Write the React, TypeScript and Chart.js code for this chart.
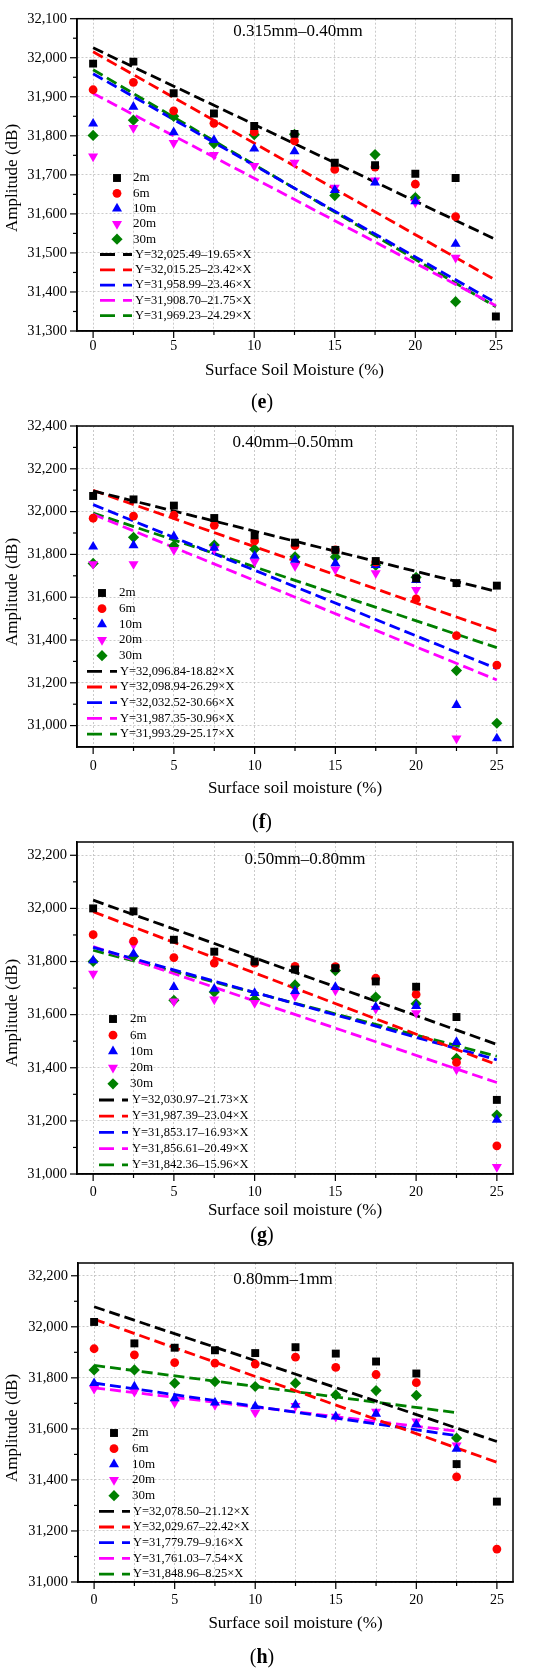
import { useEffect, useRef } from "react";
import { Chart, registerables } from "chart.js";
import { drawPoint } from "chart.js/helpers";

Chart.register(...registerables);

const FONT = "'Liberation Serif', 'Times New Roman', serif";
Chart.defaults.font.family = FONT;
Chart.defaults.color = "#000";

// soil moisture levels (%)
const moisture = [0, 2.5, 5, 7.5, 10, 12.5, 15, 17.5, 20, 22.5, 25];
const xTicks = [0, 2.5, 5, 7.5, 10, 12.5, 15, 17.5, 20, 22.5, 25];

const depths = ["2m", "6m", "10m", "20m", "30m"];
const depthColors = ["#000000", "#ff0000", "#0000ff", "#ff00ff", "#008000"];
const depthStyles = ["rect", "circle", "triangle", "triangle", "rectRot"];
const depthRotation = [0, 0, 0, 180, 0];
const depthRadius = [5.6, 4.4, 5.8, 5.8, 5.6];

// (e) 0.315mm-0.40mm
const e2m = [31985, 31990, 31909, 31857, 31825, 31805, 31731, 31725, 31703, 31692, 31337];
const e6m = [31918, 31937, 31864, 31832, 31810, 31787, 31714, 31720, 31676, 31593, null];
const e10m = [31831, 31874, 31809, 31789, 31767, 31760, 31661, 31680, 31632, 31523, null];
const e20m = [31747, 31820, 31782, 31751, 31723, 31731, 31667, 31686, 31629, 31488, null];
const e30m = [31801, 31840, 31850, 31780, 31803, 31804, 31647, 31752, 31642, 31375, null];
const eIntercepts = [32025.49, 32015.25, 31958.99, 31908.7, 31969.23];
const eSlopes = [-19.65, -23.42, -23.46, -21.75, -24.29];
const eFitEnd = [25, 25, 25, 25, 25];
const eEquations = [
  "Y=32,025.49–19.65×X",
  "Y=32,015.25–23.42×X",
  "Y=31,958.99–23.46×X",
  "Y=31,908.70–21.75×X",
  "Y=31,969.23–24.29×X",
];
const eYTicks = [31300, 31400, 31500, 31600, 31700, 31800, 31900, 32000, 32100];

// (f) 0.40mm-0.50mm
const f2m = [32073, 32057, 32028, 31970, 31889, 31855, 31821, 31769, 31688, 31666, 31654];
const f6m = [31969, 31979, 31983, 31936, 31863, 31841, 31821, 31764, 31592, 31420, 31283];
const f10m = [31836, 31842, 31884, 31831, 31793, 31774, 31758, 31750, 31680, 31096, 30940];
const f20m = [31755, 31755, 31821, 31824, 31766, 31746, 31730, 31712, 31634, 30940, null];
const f30m = [31758, 31880, 31841, 31844, 31824, 31789, 31788, 31749, 31693, 31257, 31011];
const fIntercepts = [32096.84, 32098.94, 32032.52, 31987.35, 31993.29];
const fSlopes = [-18.82, -26.29, -30.66, -30.96, -25.17];
const fFitEnd = [25, 25, 25, 25, 25];
const fEquations = [
  "Y=32,096.84-18.82×X",
  "Y=32,098.94-26.29×X",
  "Y=32,032.52-30.66×X",
  "Y=31,987.35-30.96×X",
  "Y=31,993.29-25.17×X",
];
const fYTicks = [31000, 31200, 31400, 31600, 31800, 32000, 32200, 32400];

// (g) 0.50mm-0.80mm
const g2m = [32000, 31989, 31882, 31837, 31800, 31770, 31775, 31725, 31705, 31591, 31279];
const g6m = [31901, 31877, 31815, 31794, 31794, 31782, 31781, 31737, 31676, 31420, 31106];
const g10m = [31804, 31829, 31704, 31697, 31681, 31689, 31704, 31629, 31632, 31497, 31204];
const g20m = [31754, 31864, 31650, 31657, 31644, 31670, 31691, 31622, 31606, 31394, 31027];
const g30m = [31800, 31820, 31654, 31685, 31657, 31712, 31766, 31666, 31641, 31435, 31222];
const gIntercepts = [32030.97, 31987.39, 31853.17, 31856.61, 31842.36];
const gSlopes = [-21.73, -23.04, -16.93, -20.49, -15.96];
const gFitEnd = [25, 25, 25, 25, 25];
const gEquations = [
  "Y=32,030.97–21.73×X",
  "Y=31,987.39–23.04×X",
  "Y=31,853.17–16.93×X",
  "Y=31,856.61–20.49×X",
  "Y=31,842.36–15.96×X",
];
const gYTicks = [31000, 31200, 31400, 31600, 31800, 32000, 32200];

// (h) 0.80mm-1mm
const h2m = [32019, 31935, 31918, 31908, 31897, 31920, 31895, 31864, 31817, 31462, 31315];
const h6m = [31914, 31890, 31860, 31858, 31854, 31881, 31841, 31813, 31781, 31412, 31129];
const h10m = [31779, 31766, 31720, 31703, 31688, 31694, 31648, 31659, 31618, 31522, null];
const h20m = [31757, 31746, 31703, 31694, 31664, 31690, 31648, 31668, 31629, 31535, null];
const h30m = [31831, 31831, 31779, 31785, 31766, 31779, 31733, 31750, 31731, 31564, null];
const hIntercepts = [32078.5, 32029.67, 31779.79, 31761.03, 31848.96];
const hSlopes = [-21.12, -22.42, -9.16, -7.54, -8.25];
const hFitEnd = [25, 25, 22.5, 22.5, 22.5];
const hEquations = [
  "Y=32,078.50–21.12×X",
  "Y=32,029.67–22.42×X",
  "Y=31,779.79–9.16×X",
  "Y=31,761.03–7.54×X",
  "Y=31,848.96–8.25×X",
];
const hYTicks = [31000, 31200, 31400, 31600, 31800, 32000, 32200];

const panels = [
  {
    tag: "e", top: 0, height: 420,
    area: { left: 77, right: 512, top: 15, bottom: 331 },
    yMin: 31300, yMax: 32100, yTicks: eYTicks,
    series: [e2m, e6m, e10m, e20m, e30m],
    intercepts: eIntercepts, slopes: eSlopes, fitEnd: eFitEnd, equations: eEquations,
    range: "0.315mm–0.40mm", rangeX: 298, rangeY: 32,
    xTitle: "Surface Soil Moisture (%)", xTitleY: 371, yTitleY: 178, tagY: 403, xTickPad: 7,
    legend: { markerX: 117, textX: 133, lineX1: 100, lineX2: 132, lineTextX: 135, row0: 178, step: 15.3 },
  },
  {
    tag: "f", top: 400, height: 440,
    area: { left: 77, right: 513, top: 426, bottom: 747 },
    yMin: 30900, yMax: 32400, yTicks: fYTicks,
    series: [f2m, f6m, f10m, f20m, f30m],
    intercepts: fIntercepts, slopes: fSlopes, fitEnd: fFitEnd, equations: fEquations,
    range: "0.40mm–0.50mm", rangeX: 293, rangeY: 443,
    xTitle: "Surface soil moisture (%)", xTitleY: 789, yTitleY: 592, tagY: 823, xTickPad: 11,
    legend: { markerX: 102, textX: 119, lineX1: 87, lineX2: 117, lineTextX: 120, row0: 593, step: 15.67 },
  },
  {
    tag: "g", top: 820, height: 430,
    area: { left: 77, right: 513, top: 842, bottom: 1174 },
    yMin: 31000, yMax: 32250, yTicks: gYTicks,
    series: [g2m, g6m, g10m, g20m, g30m],
    intercepts: gIntercepts, slopes: gSlopes, fitEnd: gFitEnd, equations: gEquations,
    range: "0.50mm–0.80mm", rangeX: 305, rangeY: 860,
    xTitle: "Surface soil moisture (%)", xTitleY: 1211, yTitleY: 1013, tagY: 1236, xTickPad: 10,
    legend: { markerX: 113, textX: 130, lineX1: 99, lineX2: 128, lineTextX: 132, row0: 1019, step: 16.2 },
  },
  {
    tag: "h", top: 1235, height: 441,
    area: { left: 78, right: 513, top: 1263, bottom: 1582 },
    yMin: 31000, yMax: 32250, yTicks: hYTicks,
    series: [h2m, h6m, h10m, h20m, h30m],
    intercepts: hIntercepts, slopes: hSlopes, fitEnd: hFitEnd, equations: hEquations,
    range: "0.80mm–1mm", rangeX: 283, rangeY: 1280,
    xTitle: "Surface soil moisture (%)", xTitleY: 1624, yTitleY: 1428, tagY: 1658, xTickPad: 10,
    legend: { markerX: 114, textX: 132, lineX1: 99, lineX2: 130, lineTextX: 133, row0: 1433, step: 15.67 },
  },
];

function makeOverlay(p) {
  return {
    id: "overlay" + p.tag,
    afterDraw(chart) {
      const { ctx, chartArea: a } = chart;
      const xs = chart.scales.x;
      const ys = chart.scales.y;
      const off = p.top;
      const seg = (x1, y1, x2, y2) => {
        ctx.beginPath();
        ctx.moveTo(x1, y1);
        ctx.lineTo(x2, y2);
        ctx.stroke();
      };
      ctx.save();

      // frame
      ctx.strokeStyle = "#000";
      ctx.lineWidth = 1.5;
      ctx.strokeRect(a.left, a.top, a.right - a.left, a.bottom - a.top);

      // tick marks
      ctx.lineWidth = 1.2;
      xTicks.forEach((v) => {
        const px = xs.getPixelForValue(v);
        seg(px, a.bottom, px, a.bottom + (v % 5 === 0 ? 7 : 4));
      });
      p.yTicks.forEach((v, i) => {
        const py = ys.getPixelForValue(v);
        seg(a.left, py, a.left - 7, py);
        if (i < p.yTicks.length - 1) {
          const pm = ys.getPixelForValue((v + p.yTicks[i + 1]) / 2);
          seg(a.left, pm, a.left - 4, pm);
        }
      });

      ctx.fillStyle = "#000";
      ctx.textBaseline = "middle";

      // range title
      ctx.textAlign = "center";
      ctx.font = `17px ${FONT}`;
      ctx.fillText(p.range, p.rangeX, p.rangeY - off);

      // axis titles
      ctx.fillText(p.xTitle, (a.left + a.right) / 2, p.xTitleY - off);
      ctx.save();
      ctx.translate(13, p.yTitleY - off);
      ctx.rotate(-Math.PI / 2);
      ctx.fillText("Amplitude (dB)", 0, 0);
      ctx.restore();

      // panel tag, e.g. (e)
      ctx.font = `20px ${FONT}`;
      const wOpen = ctx.measureText("(").width;
      ctx.font = `bold 20px ${FONT}`;
      const wTag = ctx.measureText(p.tag).width;
      const total = wOpen * 2 + wTag;
      let tx = 262 - total / 2;
      ctx.textAlign = "left";
      ctx.font = `20px ${FONT}`;
      ctx.fillText("(", tx, p.tagY - off);
      ctx.font = `bold 20px ${FONT}`;
      ctx.fillText(p.tag, tx + wOpen, p.tagY - off);
      ctx.font = `20px ${FONT}`;
      ctx.fillText(")", tx + wOpen + wTag, p.tagY - off);

      // legend
      const L = p.legend;
      depths.forEach((d, i) => {
        const y = L.row0 + i * L.step - off;
        ctx.fillStyle = depthColors[i];
        drawPoint(ctx, { pointStyle: depthStyles[i], radius: depthRadius[i], rotation: depthRotation[i], borderWidth: 0 }, L.markerX, y);
        ctx.fillStyle = "#000";
        ctx.font = `13px ${FONT}`;
        ctx.fillText(d, L.textX, y);
      });
      p.equations.forEach((eq, i) => {
        const y = L.row0 + (i + 5) * L.step - off;
        ctx.strokeStyle = depthColors[i];
        ctx.lineWidth = 2.8;
        ctx.setLineDash([15, 8]);
        seg(L.lineX1, y, L.lineX2, y);
        ctx.setLineDash([]);
        ctx.fillStyle = "#000";
        ctx.font = `12.5px ${FONT}`;
        ctx.fillText(eq, L.lineTextX, y);
      });
      ctx.restore();
    },
  };
}

function Panel({ p }) {
  const canvasRef = useRef(null);

  useEffect(() => {
    const scatterSets = p.series.map((vals, i) => ({
      type: "scatter",
      label: depths[i],
      data: moisture.map((x, j) => ({ x, y: vals[j] })).filter((pt) => pt.y !== null),
      backgroundColor: depthColors[i],
      borderColor: depthColors[i],
      pointStyle: depthStyles[i],
      pointRotation: depthRotation[i],
      pointRadius: depthRadius[i],
      pointBorderWidth: 0,
      showLine: false,
    }));
    const fitSets = p.intercepts.map((b, i) => ({
      type: "line",
      label: p.equations[i],
      data: [
        { x: 0, y: b },
        { x: p.fitEnd[i], y: b + p.slopes[i] * p.fitEnd[i] },
      ],
      borderColor: depthColors[i],
      borderWidth: 2.8,
      borderDash: [11, 5],
      pointRadius: 0,
      fill: false,
    }));

    const xAxisH = 30;
    const chart = new Chart(canvasRef.current, {
      type: "scatter",
      data: { datasets: [...scatterSets, ...fitSets] },
      options: {
        animation: false,
        responsive: false,
        layout: {
          padding: {
            left: 0,
            right: 550 - p.area.right,
            top: p.area.top - p.top,
            bottom: p.height - (p.area.bottom - p.top) - xAxisH,
          },
        },
        plugins: { legend: { display: false }, tooltip: { enabled: false } },
        scales: {
          x: {
            type: "linear",
            min: -1,
            max: 26,
            afterBuildTicks: (s) => {
              s.ticks = xTicks.map((v) => ({ value: v }));
            },
            afterFit: (s) => {
              s.height = xAxisH;
            },
            ticks: {
              callback: (v) => (Number(v) % 5 === 0 ? String(v) : ""),
              font: { size: 14 },
              color: "#000",
              padding: p.xTickPad,
              maxRotation: 0,
              autoSkip: false,
            },
            grid: { color: "#bdbdbd", lineWidth: 0.8, drawTicks: false },
            border: { color: "#000", width: 1.5, dash: [2, 2] },
          },
          y: {
            type: "linear",
            min: p.yMin,
            max: p.yMax,
            afterBuildTicks: (s) => {
              s.ticks = p.yTicks.map((v) => ({ value: v }));
            },
            afterFit: (s) => {
              s.width = p.area.left;
            },
            ticks: {
              callback: (v) => Number(v).toLocaleString("en-US"),
              font: { size: 14.5 },
              color: "#000",
              padding: 10,
              autoSkip: false,
            },
            grid: { color: "#bdbdbd", lineWidth: 0.8, drawTicks: false },
            border: { color: "#000", width: 1.5, dash: [2, 2] },
          },
        },
      },
      plugins: [makeOverlay(p)],
    });

    return () => chart.destroy();
  }, [p]);

  return (
    <canvas
      ref={canvasRef}
      width={550}
      height={p.height}
      style={{ position: "absolute", left: 0, top: p.top, width: 550, height: p.height }}
    />
  );
}

export default function App() {
  return (
    <div style={{ position: "absolute", left: 0, top: 0, width: 550, height: 1676, background: "#fff" }}>
      {panels.map((p) => (
        <Panel key={p.tag} p={p} />
      ))}
    </div>
  );
}
